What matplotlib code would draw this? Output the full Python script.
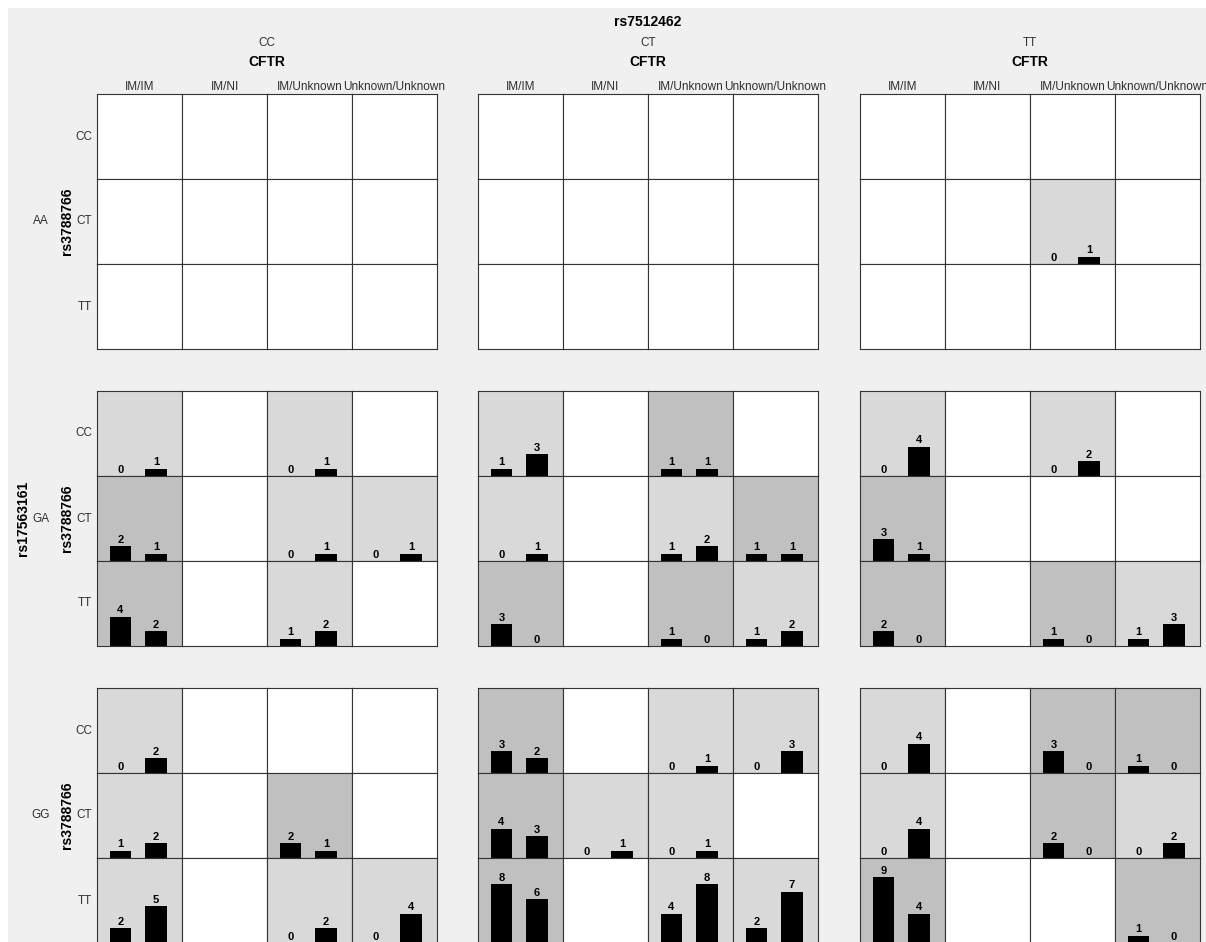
import numpy as np
import matplotlib.pyplot as plt
from matplotlib.patches import Rectangle

plt.rcParams['font.family'] = ['Liberation Sans', 'DejaVu Sans']

# Genotype factors
rs17563161 = ['AA', 'GA', 'GG']          # outer rows
rs7512462 = ['CC', 'CT', 'TT']           # outer columns
rs3788766 = ['CC', 'CT', 'TT']           # inner rows
cftr = ['IM/IM', 'IM/NI', 'IM/Unknown', 'Unknown/Unknown']  # inner columns

# Counts per rs17563161 genotype: [rs7512462][rs3788766][CFTR] -> (bar 1, bar 2)
# None means no subjects in that cell
counts_AA = [
    [[None, None, None, None], [None, None, None, None], [None, None, None, None]],
    [[None, None, None, None], [None, None, None, None], [None, None, None, None]],
    [[None, None, None, None], [None, None, (0, 1), None], [None, None, None, None]],
]
counts_GA = [
    [[(0, 1), None, (0, 1), None], [(2, 1), None, (0, 1), (0, 1)], [(4, 2), None, (1, 2), None]],
    [[(1, 3), None, (1, 1), None], [(0, 1), None, (1, 2), (1, 1)], [(3, 0), None, (1, 0), (1, 2)]],
    [[(0, 4), None, (0, 2), None], [(3, 1), None, None, None], [(2, 0), None, (1, 0), (1, 3)]],
]
counts_GG = [
    [[(0, 2), None, None, None], [(1, 2), None, (2, 1), None], [(2, 5), None, (0, 2), (0, 4)]],
    [[(3, 2), None, (0, 1), (0, 3)], [(4, 3), (0, 1), (0, 1), None], [(8, 6), None, (4, 8), (2, 7)]],
    [[(0, 4), None, (3, 0), (1, 0)], [(0, 4), None, (2, 0), (0, 2)], [(9, 4), None, None, (1, 0)]],
]
all_counts = [counts_AA, counts_GA, counts_GG]

W, H = 1206, 942
fig = plt.figure(figsize=(W / 100, H / 100), dpi=100, facecolor='white')

def fx(x):
    return x / W

def fy(y):
    return 1 - y / H

# grey panel background
fig.patches.append(Rectangle((fx(8), 0), 1 - fx(8), fy(8), transform=fig.transFigure,
                             facecolor='#f0f0f0', edgecolor='none', zorder=-10))

cell = 85
col_left = [97, 478, 860]
row_top = [94, 391, 688]
tick_color = '#303030'

for oi, block in enumerate(all_counts):
    for oj, panel in enumerate(block):
        for i in range(len(rs3788766)):
            for j in range(len(cftr)):
                x0 = col_left[oj] + j * cell
                y0 = row_top[oi] + i * cell
                ax = fig.add_axes([fx(x0), fy(y0 + cell), cell / W, cell / H])
                ax.set_xlim(0.34, 2.73)
                ax.set_ylim(0, 11.6)
                ax.set_xticks([])
                ax.set_yticks([])
                for s in ax.spines.values():
                    s.set_color('#333333')
                    s.set_linewidth(0.8)
                pair = panel[i][j]
                if pair is None:
                    ax.set_facecolor('white')
                    continue
                ax.set_facecolor('#c0c0c0' if pair[0] >= pair[1] else '#d9d9d9')
                ax.bar([1, 2], pair, width=0.6, color='black')
                for xb, v in zip([1, 2], pair):
                    ax.annotate(str(v), (xb, v), xytext=(0, 1), textcoords='offset points',
                                ha='center', va='bottom', fontsize=8, fontweight='bold')

# column headers
fig.text(fx(col_left[1] + 2 * cell), fy(22), 'rs7512462', ha='center', va='center',
         fontsize=10, fontweight='bold')
for oj, g in enumerate(rs7512462):
    cx = col_left[oj] + 2 * cell
    fig.text(fx(cx), fy(43), g, ha='center', va='center', fontsize=8.5, color=tick_color)
    fig.text(fx(cx), fy(62), 'CFTR', ha='center', va='center', fontsize=10, fontweight='bold')
    for j, lab in enumerate(cftr):
        fig.text(fx(col_left[oj] + j * cell + cell / 2), fy(87), lab, ha='center', va='center',
                 fontsize=8.5, color=tick_color)

# row headers
for oi, g in enumerate(rs17563161):
    cy = row_top[oi] + 1.5 * cell
    fig.text(fx(41), fy(cy), g, ha='center', va='center', fontsize=8.5, color=tick_color)
    fig.text(fx(67), fy(cy), 'rs3788766', ha='center', va='center', rotation=90,
             fontsize=10, fontweight='bold')
    for i, lab in enumerate(rs3788766):
        fig.text(fx(92), fy(row_top[oi] + i * cell + cell / 2), lab, ha='right', va='center',
                 fontsize=8.5, color=tick_color)
fig.text(fx(23), fy(row_top[1] + 1.5 * cell), 'rs17563161', ha='center', va='center',
         rotation=90, fontsize=10, fontweight='bold')

fig.savefig('out.png', dpi=100, facecolor=fig.get_facecolor())
